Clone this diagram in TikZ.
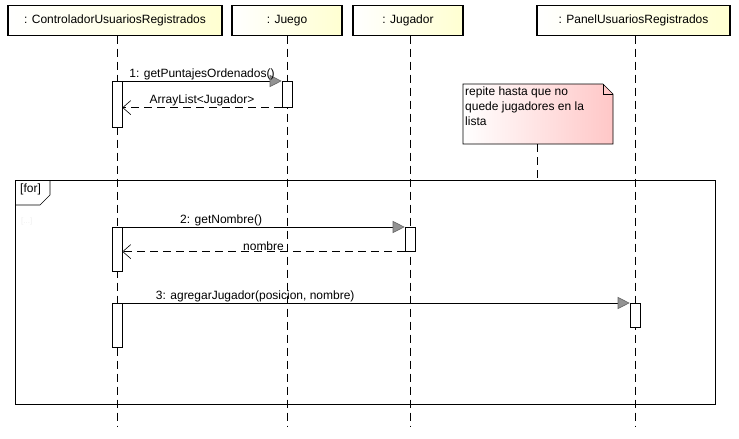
\documentclass[tikz,border=0pt]{standalone}
\usepackage{fontspec}
\setmainfont{Liberation Sans}
\usetikzlibrary{arrows.meta}
\begin{document}
\begin{tikzpicture}[x=1pt,y=-1pt,
  font=\fontsize{12}{15}\selectfont,
  obj/.style={draw, line width=1.3pt, left color=white, right color=yellow!18, minimum height=30pt, inner sep=0pt},
  life/.style={draw, dash pattern=on 8pt off 5pt, line width=0.6pt},
  act/.style={draw, fill=white, line width=0.6pt, minimum width=10pt, inner sep=0pt, anchor=north},
  msg/.style={draw, line width=0.6pt, -{Triangle[length=12pt,width=12pt,fill=gray!85,color=gray!80!black]}},
  ret/.style={draw, line width=0.6pt, dash pattern=on 8pt off 5pt, -{Straight Barb[length=8pt,width=14pt,line width=0.6pt]}},
  lbl/.style={inner sep=1pt, anchor=south}
]
\useasboundingbox[fill=white] (0,0) rectangle (739,439);

% objects
\node[obj, minimum width=214pt] (c) at (115,20.5) {: ControladorUsuariosRegistrados};
\node[obj, minimum width=110pt] (j) at (287,20.5) {: Juego};
\node[obj, minimum width=110pt] (g) at (408,20.5) {: Jugador};
\node[obj, minimum width=193pt] (p) at (633.5,20.5) {: PanelUsuariosRegistrados};

% lifelines
\coordinate (ce) at (117,427);
\coordinate (je) at (287,427);
\coordinate (ge) at (410,427);
\coordinate (pe) at (635,427);
\draw[life] (117,35.5) -- (ce);
\draw[life] (287,35.5) -- (je);
\draw[life] (410,35.5) -- (ge);
\draw[life] (635,35.5) -- (pe);

% frame
\draw[line width=0.6pt] (15,180) rectangle (715,404);
\draw[line width=0.6pt] (15,205) -- (40,205) -- (50,195) -- (50,180);
\node[anchor=north west, inner sep=0pt] (for) at (20,184) {[for]};
\node[anchor=north west, inner sep=0pt, text=gray!12, font=\fontsize{8}{9}\selectfont] (guard) at (21,218) {[...]};

% note
\coordinate (nA) at (463,84);
\coordinate (nB) at (603,84);
\coordinate (nC) at (613,94);
\coordinate (nD) at (613,144);
\coordinate (nE) at (463,144);
\path[left color=white, right color=red!22] (nA) -- (nB) -- (nC) -- (nD) -- (nE) -- cycle;
\draw[line width=0.6pt] (nA) -- (nB) -- (nC) -- (nD) -- (nE) -- cycle;
\draw[line width=0.6pt] (nB) -- (603,94) -- (nC);
\node[anchor=north west, inner sep=0pt, align=left] (note) at (465,87) {repite hasta que no\\quede jugadores en la\\lista};
\coordinate (nf) at (537,180);
\draw[life] (537,144) -- (nf);

% activations
\node[act, minimum height=46pt] (a1) at (117,81) {};
\node[act, minimum height=26pt] (j1) at (287,81) {};
\node[act, minimum height=44pt] (a2) at (117,227) {};
\node[act, minimum height=24pt] (g1) at (410,227) {};
\node[act, minimum height=44pt] (a3) at (117,303) {};
\node[act, minimum height=24pt] (p1) at (635,303) {};

% messages
\draw[msg] (a1.north east) -- (j1.north west) node[lbl, pos=0.5] (m1) {1: getPuntajesOrdenados()};
\draw[ret] (j1.south west) -- (a1.east |- j1.south west) node[lbl, pos=0.5] (r1) {ArrayList<Jugador>};
\draw[msg] (a2.north east) -- (g1.north west) node[lbl, pos=0.35] (m2) {2: getNombre()};
\draw[ret] (g1.south west) -- (a2.east |- g1.south west) node[lbl, pos=0.5] (r2) {nombre};
\draw[msg] (a3.north east) -- (p1.north west) node[lbl, pos=0.262] (m3) {3: agregarJugador(posicion, nombre)};
\end{tikzpicture}
\end{document}
